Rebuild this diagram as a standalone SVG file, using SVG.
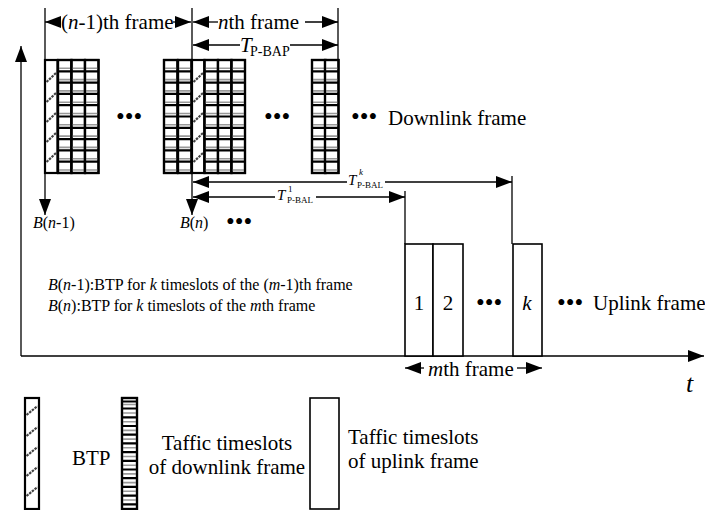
<svg xmlns="http://www.w3.org/2000/svg" xmlns:xlink="http://www.w3.org/1999/xlink" width="705" height="510" viewBox="0 0 705 510">
<style>
  text { font-family: "Liberation Serif", "Times New Roman", serif; fill: #000; }
  .big { font-size: 21px; }
  .mid { font-size: 16px; }
  .dots { font-size: 25px; }
  .it { font-style: italic; }
  .ln { stroke: #000; stroke-width: 1.3; fill: none; }
  .box { fill: #fff; stroke: #000; stroke-width: 2.2; }
  .hatch { stroke: #444; stroke-width: 2.2; stroke-dasharray: 2.5 1; fill: none; }
  .gb { stroke: #000; stroke-width: 2.2; fill: none; }
  .gg { stroke: #999; stroke-width: 1.6; fill: none; }
</style>
<defs>
  <marker id="ah" viewBox="0 0 16 12" refX="16" refY="6" markerWidth="16" markerHeight="12" markerUnits="userSpaceOnUse" orient="auto">
    <path d="M0,0 L16,6 L0,12 Z" fill="#000"/>
  </marker>
  <g id="col">
    <rect class="box" x="0" y="0" width="13.5" height="113"/>
    <path class="gg" d="M0 8.3H13.5M0 19.6H13.5M0 30.9H13.5M0 42.2H13.5M0 53.5H13.5M0 64.8H13.5M0 76.1H13.5M0 87.4H13.5M0 98.7H13.5M0 110H13.5"/>
    <path class="gb" d="M0 11.3H13.5M0 22.6H13.5M0 33.9H13.5M0 45.2H13.5M0 56.5H13.5M0 67.8H13.5M0 79.1H13.5M0 90.4H13.5M0 101.7H13.5"/>
    <rect x="0" y="0" width="13.5" height="113" fill="none" stroke="#000" stroke-width="2.2"/>
  </g>
  <g id="btp">
    <rect class="box" x="0" y="0" width="12.5" height="113"/>
    <path class="hatch" d="M1.5 22L11 13M1.5 42L11 33M1.5 62L11 53M1.5 82L11 73M1.5 102L11 93"/>
  </g>
</defs>

<g id="axes">
  <line class="ln" x1="21" y1="356" x2="21" y2="46" marker-end="url(#ah)"/>
  <line class="ln" x1="21" y1="356" x2="704" y2="356" marker-end="url(#ah)"/>
  <text class="it" x="686" y="392" style="font-size:26px">t</text>
</g>

<g id="downlink-frame-n-1">
  <use xlink:href="#btp" x="45" y="60"/>
  <use xlink:href="#col" x="58" y="60"/>
  <use xlink:href="#col" x="71.5" y="60"/>
  <use xlink:href="#col" x="85" y="60"/>
  <text class="dots" x="116" y="125">•••</text>
  <use xlink:href="#col" x="164" y="60"/>
  <use xlink:href="#col" x="178" y="60"/>
</g>

<g id="downlink-frame-n">
  <use xlink:href="#btp" x="192" y="60"/>
  <use xlink:href="#col" x="204.5" y="60"/>
  <use xlink:href="#col" x="218" y="60"/>
  <use xlink:href="#col" x="231.5" y="60"/>
  <text class="dots" x="264" y="125">•••</text>
  <use xlink:href="#col" x="312" y="60"/>
  <use xlink:href="#col" x="325" y="60"/>
  <text class="dots" x="351" y="125">•••</text>
  <text class="big" x="388" y="125">Downlink frame</text>
</g>

<g id="uplink-frame">
  <rect class="box" x="405" y="244" width="28" height="112" style="stroke-width:1.6"/>
  <rect class="box" x="433" y="244" width="30" height="112" style="stroke-width:1.6"/>
  <rect class="box" x="513" y="244" width="29" height="112" style="stroke-width:1.6"/>
  <text class="big" x="419" y="310" text-anchor="middle">1</text>
  <text class="big" x="448" y="310" text-anchor="middle">2</text>
  <text class="dots" x="476" y="311">•••</text>
  <text class="big it" x="527" y="310" text-anchor="middle">k</text>
  <text class="dots" x="557" y="311">•••</text>
  <text class="big" x="593" y="310">Uplink frame</text>
</g>

<g id="labels">
  <text class="mid" x="33" y="228"><tspan class="it">B</tspan>(<tspan class="it">n</tspan>-1)</text>
  <text class="mid" x="180" y="228"><tspan class="it">B</tspan>(<tspan class="it">n</tspan>)</text>
  <text class="dots" x="226" y="230">•••</text>
  <text class="mid" x="48" y="290"><tspan class="it">B</tspan>(<tspan class="it">n</tspan>-1):BTP for <tspan class="it">k</tspan> timeslots of the (<tspan class="it">m</tspan>-1)th frame</text>
  <text class="mid" x="48" y="311"><tspan class="it">B</tspan>(<tspan class="it">n</tspan>):BTP for <tspan class="it">k</tspan> timeslots of the <tspan class="it">m</tspan>th frame</text>
</g>

<g id="connectors">
  <line class="ln" x1="45" y1="8" x2="45" y2="215" marker-end="url(#ah)"/>
  <line class="ln" x1="192" y1="8" x2="192" y2="215" marker-end="url(#ah)"/>
  <line class="ln" x1="338" y1="8" x2="338" y2="60"/>
  <line class="ln" x1="61" y1="22" x2="45" y2="22" marker-end="url(#ah)"/>
  <line class="ln" x1="173" y1="22" x2="191" y2="22" marker-end="url(#ah)"/>
  <text class="big" x="61" y="29">(<tspan class="it">n</tspan>-1)th frame</text>
  <line class="ln" x1="218" y1="22" x2="193" y2="22" marker-end="url(#ah)"/>
  <line class="ln" x1="305" y1="22" x2="338" y2="22" marker-end="url(#ah)"/>
  <text class="big" x="218" y="29"><tspan class="it">n</tspan>th frame</text>
  <line class="ln" x1="240" y1="45" x2="193" y2="45" marker-end="url(#ah)"/>
  <line class="ln" x1="290" y1="45" x2="338" y2="45" marker-end="url(#ah)"/>
  <text class="it" x="240" y="52" style="font-size:21px">T</text>
  <text x="250" y="56" style="font-size:14px">P-BAP</text>
  <line class="ln" x1="347" y1="182" x2="193" y2="182" marker-end="url(#ah)"/>
  <line class="ln" x1="385" y1="182" x2="512" y2="182" marker-end="url(#ah)"/>
  <line class="ln" x1="512" y1="176" x2="512" y2="244"/>
  <text class="it" x="348" y="185" style="font-size:15px">T</text>
  <text class="it" x="359" y="175" style="font-size:9px">k</text>
  <text x="357" y="188" style="font-size:9px">P-BAL</text>
  <line class="ln" x1="275" y1="197" x2="193" y2="197" marker-end="url(#ah)"/>
  <line class="ln" x1="316" y1="197" x2="405" y2="197" marker-end="url(#ah)"/>
  <line class="ln" x1="405" y1="191" x2="405" y2="244"/>
  <text class="it" x="277" y="200" style="font-size:15px">T</text>
  <text x="288" y="192" style="font-size:9px">1</text>
  <text x="287" y="203" style="font-size:9px">P-BAL</text>
  <line class="ln" x1="424" y1="368" x2="405" y2="368" marker-end="url(#ah)"/>
  <line class="ln" x1="517" y1="368" x2="542" y2="368" marker-end="url(#ah)"/>
  <text class="big" x="428" y="376"><tspan class="it">m</tspan>th frame</text>
</g>

<g id="legend-btp">
  <rect class="box" x="25" y="398" width="14" height="111"/>
  <path class="hatch" d="M26.5 415L37.5 406M26.5 436L37.5 427M26.5 456L37.5 447M26.5 476L37.5 467M26.5 496L37.5 487"/>
  <text class="big" x="72" y="465">BTP</text>
</g>

<g id="legend-downlink">
  <rect class="box" x="122" y="398" width="15" height="111"/>
  <path class="gg" d="M122 404.5H137M122 413H137M122 421.7H137M122 430.4H137M122 439.1H137M122 447.8H137M122 456.5H137M122 465.2H137M122 473.9H137M122 482.6H137M122 491.3H137M122 500H137"/>
  <path class="gb" d="M122 401.5H137M122 408.5H137M122 417.3H137M122 426H137M122 434.7H137M122 443.4H137M122 452.1H137M122 460.8H137M122 469.5H137M122 478.2H137M122 486.9H137M122 495.6H137M122 504.3H137"/>
  <rect x="122" y="398" width="15" height="111" fill="none" stroke="#000" stroke-width="2.2"/>
  <text class="big" x="227" y="450" text-anchor="middle">Taffic timeslots</text>
  <text class="big" x="227" y="474" text-anchor="middle">of downlink frame</text>
</g>

<g id="legend-uplink">
  <rect class="box" x="310" y="398" width="29" height="111" style="stroke-width:1.6"/>
  <text class="big" x="348" y="444">Taffic timeslots</text>
  <text class="big" x="348" y="468">of uplink frame</text>
</g>
</svg>
